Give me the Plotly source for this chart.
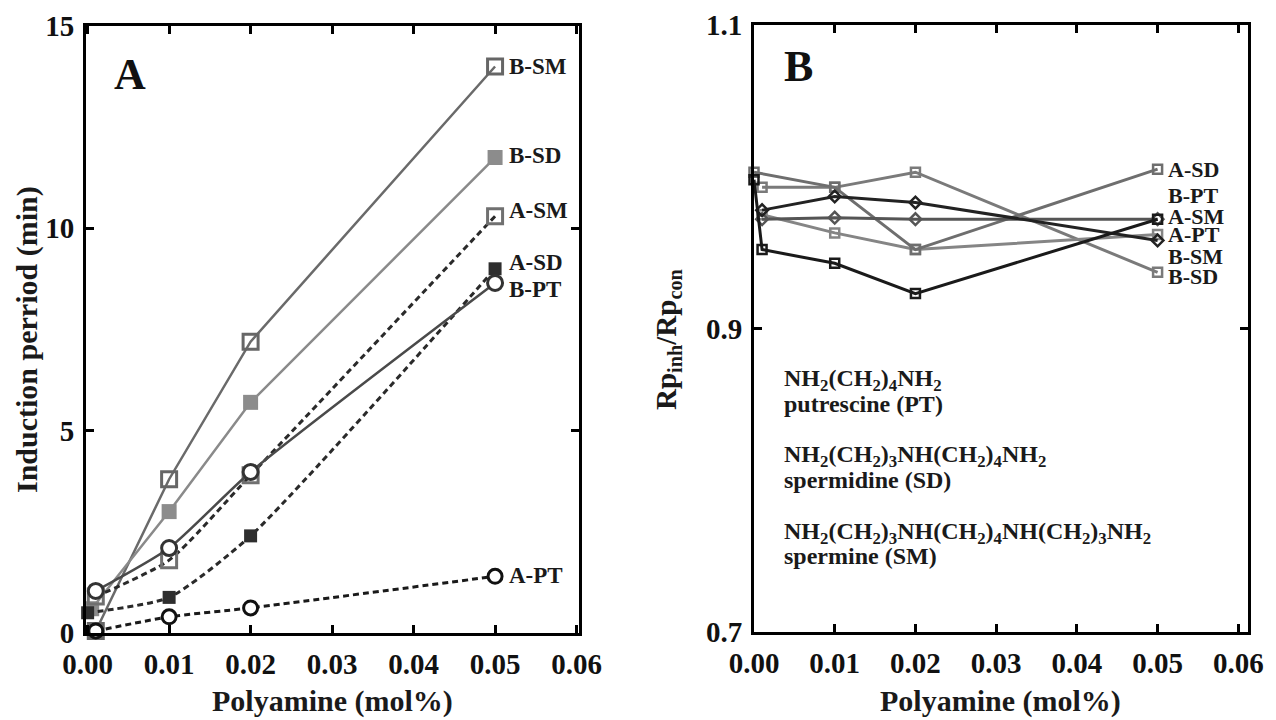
import plotly.graph_objects as go

# ---------------- Panel A data ----------------
a_labels = ["B-SM", "B-SD", "A-SM", "A-SD", "B-PT", "A-PT"]
a_x = {
    "B-SM": [0.001, 0.01, 0.02, 0.05],
    "B-SD": [0.0005, 0.01, 0.02, 0.05],
    "A-SM": [0.001, 0.01, 0.02, 0.05],
    "A-SD": [0.0, 0.01, 0.02, 0.05],
    "B-PT": [0.001, 0.01, 0.02, 0.05],
    "A-PT": [0.001, 0.01, 0.02, 0.05],
}
a_y = {
    "B-SM": [0.05, 3.8, 7.2, 14.0],
    "B-SD": [0.6, 3.0, 5.7, 11.75],
    "A-SM": [0.9, 1.8, 3.9, 10.3],
    "A-SD": [0.5, 0.88, 2.4, 9.0],
    "B-PT": [1.04, 2.1, 3.98, 8.65],
    "A-PT": [0.05, 0.4, 0.62, 1.4],
}
a_label_y = {"B-SM": 14.0, "B-SD": 11.8, "A-SM": 10.45, "A-SD": 9.15, "B-PT": 8.5, "A-PT": 1.43}

# ---------------- Panel B data ----------------
b_labels = ["A-SD", "B-PT", "A-SM", "A-PT", "B-SM", "B-SD"]
b_x = {
    "A-SD": [0.0, 0.01, 0.02, 0.05],
    "B-SD": [0.001, 0.01, 0.02, 0.05],
    "B-PT": [0.0, 0.001, 0.01, 0.02, 0.05],
    "A-SM": [0.001, 0.01, 0.02, 0.05],
    "A-PT": [0.001, 0.01, 0.02, 0.05],
    "B-SM": [0.001, 0.01, 0.02, 0.05],
}
b_y = {
    "A-SD": [1.003, 0.993, 0.952, 1.005],
    "B-SD": [0.993, 0.993, 1.003, 0.937],
    "B-PT": [0.998, 0.952, 0.943, 0.923, 0.972],
    "A-SM": [0.972, 0.973, 0.972, 0.972],
    "A-PT": [0.975, 0.963, 0.952, 0.962],
    "B-SM": [0.978, 0.987, 0.983, 0.958],
}
b_label_y = {"A-SD": 1.0046, "B-PT": 0.9874, "A-SM": 0.9736, "A-PT": 0.9617, "B-SM": 0.9472, "B-SD": 0.9340}

formula_lines = [
    "NH<sub>2</sub>(CH<sub>2</sub>)<sub>4</sub>NH<sub>2</sub>",
    "putrescine (PT)",
    "NH<sub>2</sub>(CH<sub>2</sub>)<sub>3</sub>NH(CH<sub>2</sub>)<sub>4</sub>NH<sub>2</sub>",
    "spermidine (SD)",
    "NH<sub>2</sub>(CH<sub>2</sub>)<sub>3</sub>NH(CH<sub>2</sub>)<sub>4</sub>NH(CH<sub>2</sub>)<sub>3</sub>NH<sub>2</sub>",
    "spermine (SM)",
]
formula_y = [0.866, 0.850, 0.816, 0.800, 0.765, 0.750]

x_ticks = [0.0, 0.01, 0.02, 0.03, 0.04, 0.05, 0.06]
x_ticktext = ["0.00", "0.01", "0.02", "0.03", "0.04", "0.05", "0.06"]
a_yticks = [0, 5, 10, 15]
b_yticks = [0.7, 0.9, 1.1]

# ---------------- geometry helpers (page has an 8px body margin) ----------------
OFF = 8
W, H = 1276 - OFF, 720 - OFF


def px(x):
    return (x - OFF) / W


def py(y):
    return 1 - (y - OFF) / H


# ---------------- styles ----------------
FONT = "Liberation Serif"
a_style = {
    "B-SM": dict(line=dict(color="#6a6a6a", width=2.5), marker=dict(symbol="square-open", size=15, color="#666666", line=dict(width=3)), shape="linear"),
    "B-SD": dict(line=dict(color="#8a8a8a", width=2.5), marker=dict(symbol="square", size=15, color="#8c8c8c"), shape="linear"),
    "A-SM": dict(line=dict(color="#2a2a2a", width=3, dash="6px,4px"), marker=dict(symbol="square-open", size=15, color="#707070", line=dict(width=3)), shape="spline"),
    "A-SD": dict(line=dict(color="#2a2a2a", width=3, dash="6px,4px"), marker=dict(symbol="square", size=13, color="#2e2e2e"), shape="spline"),
    "B-PT": dict(line=dict(color="#4a4a4a", width=2.5), marker=dict(symbol="circle", size=15, color="white", line=dict(color="#333333", width=3)), shape="spline"),
    "A-PT": dict(line=dict(color="#1a1a1a", width=3, dash="6px,4px"), marker=dict(symbol="circle", size=14, color="white", line=dict(color="#111111", width=3)), shape="spline"),
}
b_style = {
    "A-SD": dict(color="#6e6e6e", symbol="square-open"),
    "B-SD": dict(color="#7a7a7a", symbol="square-open"),
    "B-PT": dict(color="#1a1a1a", symbol="square-open"),
    "A-SM": dict(color="#555555", symbol="diamond-open"),
    "A-PT": dict(color="#858585", symbol="square-open"),
    "B-SM": dict(color="#222222", symbol="diamond-open"),
}

fig = go.Figure()

for name in a_labels:
    s = a_style[name]
    fig.add_trace(go.Scatter(
        x=a_x[name], y=a_y[name], mode="lines+markers", name=name,
        line=dict(**s["line"], shape=s["shape"], smoothing=0.6),
        marker=s["marker"], cliponaxis=False, xaxis="x", yaxis="y", showlegend=False,
    ))

for name in ["B-SD", "A-PT", "A-SD", "A-SM", "B-SM", "B-PT"]:
    s = b_style[name]
    fig.add_trace(go.Scatter(
        x=b_x[name], y=b_y[name], mode="lines+markers", name=name,
        line=dict(color=s["color"], width=3),
        marker=dict(symbol=s["symbol"], size=9, color=s["color"], line=dict(width=2.5)),
        cliponaxis=False, xaxis="x2", yaxis="y2", showlegend=False,
    ))

tickfont = dict(family=FONT, size=29, color="#111111", weight="bold")
axis_common = dict(
    showline=True, linecolor="black", linewidth=3, mirror="ticks",
    ticks="inside", ticklen=8, tickwidth=3, tickcolor="black",
    showgrid=False, zeroline=False, tickfont=tickfont, automargin=False,
)

fig.update_layout(
    width=W, height=H,
    margin=dict(l=0, r=0, t=0, b=0, autoexpand=False),
    paper_bgcolor="white", plot_bgcolor="white",
    xaxis=dict(domain=[px(86), px(579)], range=[-0.0002, 0.0603], anchor="y",
               tickvals=x_ticks, ticktext=x_ticktext, ticklabelstandoff=3, **axis_common),
    yaxis=dict(domain=[py(633), py(26)], range=[0, 15], anchor="x",
               tickvals=a_yticks, ticklabelstandoff=3, **axis_common),
    xaxis2=dict(domain=[px(754), px(1248)], range=[0.0, 0.0612], anchor="y2",
                tickvals=x_ticks, ticktext=x_ticktext, ticklabelstandoff=3, **axis_common),
    yaxis2=dict(domain=[py(632), py(25)], range=[0.7, 1.1], anchor="x2",
                tickvals=b_yticks, ticktext=["0.7", "0.9", "1.1"], ticklabelstandoff=3, **axis_common),
)

ann = []
lab_font = dict(family=FONT, size=23, color="#1a1a1a", weight="bold")
for name in a_labels:
    ann.append(dict(x=0.05, y=a_label_y[name], xref="x", yref="y", text=name,
                    xanchor="left", yanchor="middle", xshift=12, showarrow=False, font=lab_font))
lab_font_b = dict(family=FONT, size=22, color="#1a1a1a", weight="bold")
for name in b_labels:
    ann.append(dict(x=0.05, y=b_label_y[name], xref="x2", yref="y2", text=name,
                    xanchor="left", yanchor="middle", xshift=8, showarrow=False, font=lab_font_b))
for txt, yy in zip(formula_lines, formula_y):
    ann.append(dict(x=0.0035, y=yy, xref="x2", yref="y2", text=txt,
                    xanchor="left", yanchor="middle", showarrow=False,
                    font=dict(family=FONT, size=24, color="#1a1a1a", weight="bold")))
# panel letters
ann.append(dict(x=px(130), y=py(74), xref="paper", yref="paper", text="A",
                xanchor="center", yanchor="middle",
                showarrow=False, font=dict(family=FONT, size=44, color="#111111", weight="bold")))
ann.append(dict(x=px(798), y=py(67), xref="paper", yref="paper", text="B",
                xanchor="center", yanchor="middle",
                showarrow=False, font=dict(family=FONT, size=44, color="#111111", weight="bold")))
# axis titles
title_font = dict(family=FONT, size=30, color="#1a1a1a", weight="bold")
ann.append(dict(x=px(332), y=py(701), xref="paper", yref="paper", text="Polyamine (mol%)",
                xanchor="center", yanchor="middle", showarrow=False, font=title_font))
ann.append(dict(x=px(1000), y=py(701), xref="paper", yref="paper", text="Polyamine (mol%)",
                xanchor="center", yanchor="middle", showarrow=False, font=title_font))
ann.append(dict(x=px(27), y=py(340), xref="paper", yref="paper", text="Induction perriod (min)",
                xanchor="center", yanchor="middle",
                textangle=-90, showarrow=False, font=dict(family=FONT, size=30, color="#1a1a1a", weight="bold")))
ann.append(dict(x=px(668), y=py(340), xref="paper", yref="paper",
                text="Rp<sub>inh</sub>/Rp<sub>con</sub>", xanchor="center", yanchor="middle",
                textangle=-90, showarrow=False, font=dict(family=FONT, size=29, color="#1a1a1a", weight="bold")))
fig.update_layout(annotations=ann)

fig.write_html("out.html")
